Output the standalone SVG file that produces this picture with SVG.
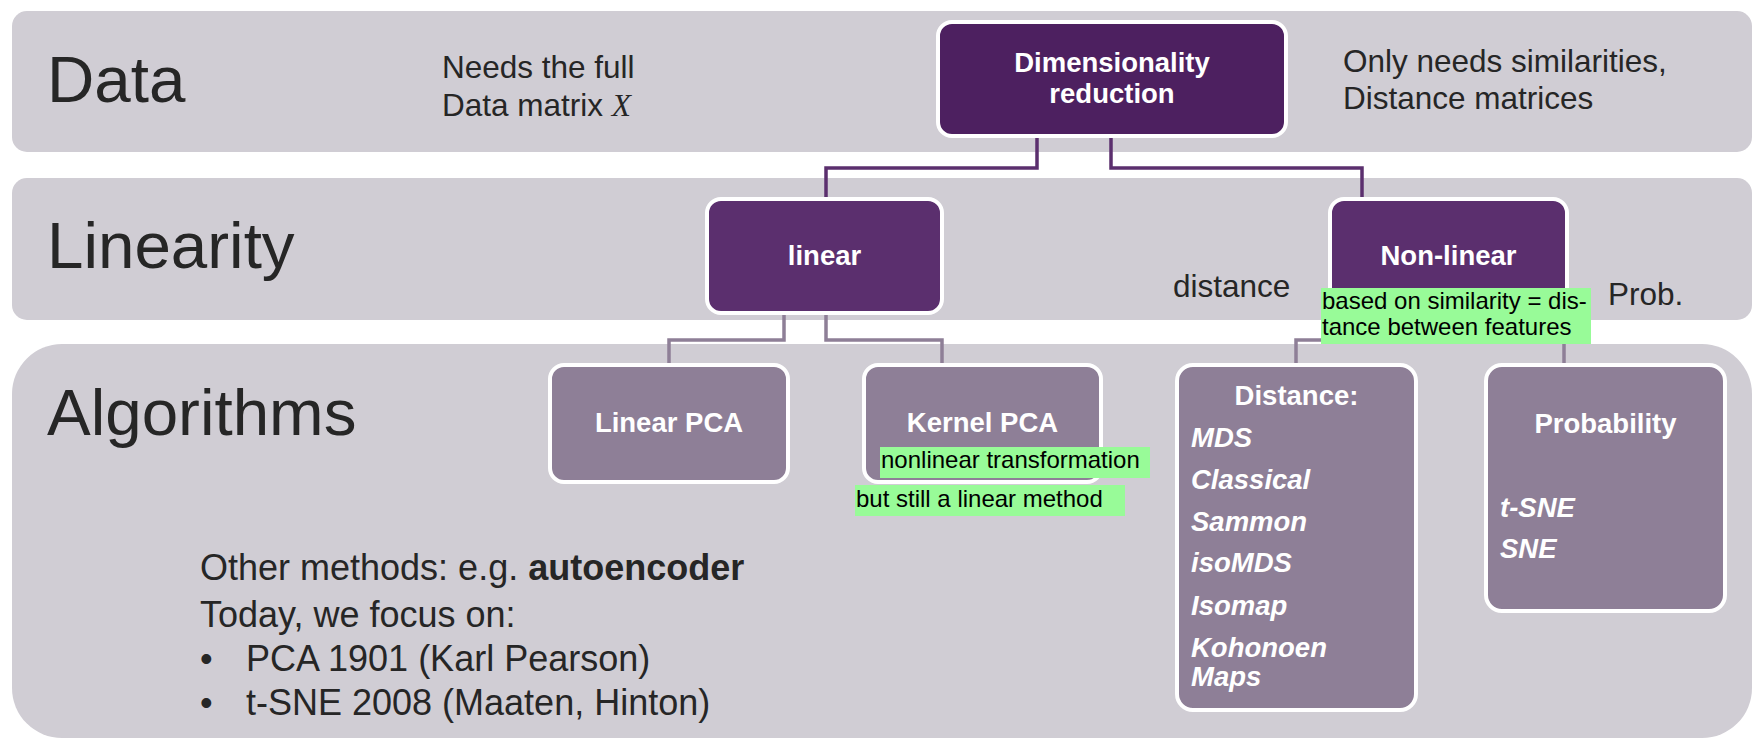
<svg xmlns="http://www.w3.org/2000/svg" width="1763" height="745" viewBox="0 0 1763 745">
<style>
text{font-family:"Liberation Sans",Arial,sans-serif}
.band{fill:#D0CDD4}
.lvl{font-size:65.5px;fill:#262626}
.note{font-size:31.5px;fill:#262626}
.n1{fill:#4D2060;stroke:#fff;stroke-width:4}
.n2{fill:#5B2F6E;stroke:#fff;stroke-width:4}
.n3{fill:#8E7F97;stroke:#fff;stroke-width:4}
.bt{font-size:27.5px;font-weight:bold;fill:#fff;text-anchor:middle}
.it{font-size:27.5px;font-weight:bold;font-style:italic;fill:#fff}
.c1{fill:none;stroke:#5B2F6E;stroke-width:3.5}
.c2{fill:none;stroke:#8E7F97;stroke-width:3.5}
.hl{fill:#98FB98}
.ht{font-size:24px;fill:#000}
.bot{font-size:36px;fill:#262626}
</style>
<rect width="1763" height="745" fill="#fff"/>
<g id="bands">
<rect class="band" x="12" y="11" width="1740" height="141" rx="15"/>
<rect class="band" x="12" y="178" width="1740" height="142" rx="15"/>
<rect class="band" x="12" y="344" width="1740" height="394" rx="50"/>
</g>
<g id="labels">
<text class="lvl" x="47" y="102">Data</text>
<text class="lvl" x="47" y="268">Linearity</text>
<text class="lvl" x="47" y="435">Algorithms</text>
<text class="note" x="442" y="78">Needs the full</text>
<text class="note" x="442" y="116">Data matrix <tspan font-family="'Liberation Serif',serif" font-style="italic">X</tspan></text>
<text class="note" x="1343" y="72">Only needs similarities,</text>
<text class="note" x="1343" y="109">Distance matrices</text>
<text class="note" x="1173" y="297">distance</text>
<text class="note" x="1608" y="305">Prob.</text>
</g>
<g id="connectors">
<path class="c1" d="M1037,138 V168 H826 V197"/>
<path class="c1" d="M1111,138 V168 H1362 V197"/>
<path class="c2" d="M784,315 V340 H669 V363"/>
<path class="c2" d="M826,315 V340 H942 V363"/>
<path class="c2" d="M1408,315 V340 H1296 V363"/>
<path class="c2" d="M1450,315 V340 H1564 V363"/>
</g>
<g id="dimred">
<rect class="n1" x="938" y="22" width="348" height="114" rx="14"/>
<text class="bt" x="1112" y="72">Dimensionality</text>
<text class="bt" x="1112" y="103">reduction</text>
</g>
<g id="linear">
<rect class="n2" x="707" y="199" width="235" height="114" rx="14"/>
<text class="bt" x="824.5" y="265">linear</text>
</g>
<g id="nonlinear">
<rect class="n2" x="1330" y="199" width="237" height="114" rx="14"/>
<text class="bt" x="1448.5" y="265">Non-linear</text>
</g>
<g id="linearpca">
<rect class="n3" x="550" y="365" width="238" height="117" rx="14"/>
<text class="bt" x="669" y="432">Linear PCA</text>
</g>
<g id="kernelpca">
<rect class="n3" x="864" y="365" width="237" height="117" rx="14"/>
<text class="bt" x="982.5" y="432">Kernel PCA</text>
</g>
<g id="distance">
<rect class="n3" x="1177" y="365" width="239" height="345" rx="16"/>
<text class="bt" x="1296.5" y="405">Distance:</text>
<text class="it" x="1191" y="447">MDS</text>
<text class="it" x="1191" y="489">Classical</text>
<text class="it" x="1191" y="531">Sammon</text>
<text class="it" x="1191" y="572">isoMDS</text>
<text class="it" x="1191" y="615">Isomap</text>
<text class="it" x="1191" y="657">Kohonoen</text>
<text class="it" x="1191" y="686">Maps</text>
</g>
<g id="probability">
<rect class="n3" x="1486" y="365" width="239" height="246" rx="16"/>
<text class="bt" x="1605.5" y="433">Probability</text>
<text class="it" x="1500" y="517">t-SNE</text>
<text class="it" x="1500" y="558">SNE</text>
</g>
<g id="highlights">
<rect class="hl" x="1321" y="288" width="270" height="56"/>
<text class="ht" x="1322" y="309">based on similarity = dis-</text>
<text class="ht" x="1322" y="335">tance between features</text>
<rect class="hl" x="880" y="447" width="270" height="31"/>
<text class="ht" x="881" y="468">nonlinear transformation</text>
<rect class="hl" x="855" y="485" width="270" height="31"/>
<text class="ht" x="856" y="507">but still a linear method</text>
</g>
<g id="bottomtext">
<text class="bot" x="200" y="580">Other methods: e.g. <tspan font-weight="bold">autoencoder</tspan></text>
<text class="bot" x="200" y="627">Today, we focus on:</text>
<text class="bot" x="200" y="671">•</text>
<text class="bot" x="246" y="671">PCA 1901 (Karl Pearson)</text>
<text class="bot" x="200" y="715">•</text>
<text class="bot" x="246" y="715">t-SNE 2008 (Maaten, Hinton)</text>
</g>
</svg>
